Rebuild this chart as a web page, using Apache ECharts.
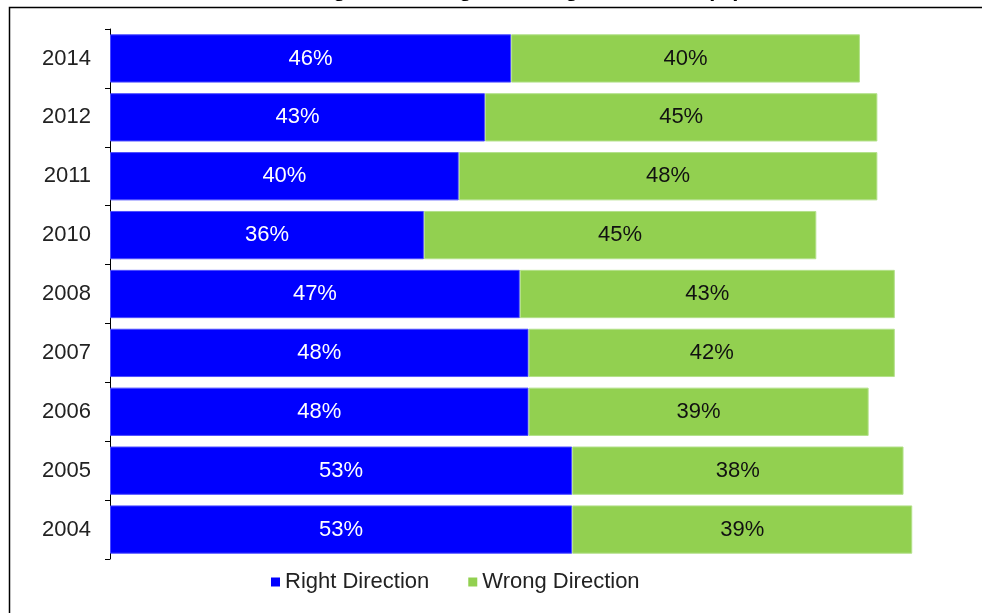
<!DOCTYPE html>
<html>
<head>
<meta charset="utf-8">
<script src="https://cdn.jsdelivr.net/npm/echarts@6/dist/echarts.min.js"></script>
<style>
html,body{margin:0;padding:0;background:#fff;}
#chart{width:982px;height:613px;}
</style>
</head>
<body>
<div id="chart"></div>
<script>
const titleText = "Is the Region Heading in the Right Direction (%)";
const years = ["2014", "2012", "2011", "2010", "2008", "2007", "2006", "2005", "2004"];
const rightDirection = [46, 43, 40, 36, 47, 48, 48, 53, 53];
const wrongDirection = [40, 45, 48, 45, 43, 42, 39, 38, 39];
const seriesNames = ["Right Direction", "Wrong Direction"];

const FONT = "'Liberation Sans', Arial, sans-serif";
const chart = echarts.init(document.getElementById('chart'));
chart.setOption({
  animation: false,
  backgroundColor: '#fff',
  textStyle: { fontFamily: FONT },
  title: {
    text: titleText,
    left: 'center',
    top: -26,
    textStyle: { fontFamily: FONT, fontSize: 22, fontWeight: 'bold', color: '#000' }
  },
  graphic: [{
    type: 'rect',
    left: 7, top: 5,
    shape: { width: 1100, height: 800 },
    style: { fill: 'none', stroke: '#000', lineWidth: 1.5 },
    silent: true, z: -10
  }],
  legend: {
    left: 266, top: 566,
    itemWidth: 9, itemHeight: 9, itemGap: 39,
    icon: 'rect',
    itemStyle: { borderWidth: 0 },
    textStyle: { fontFamily: FONT, fontSize: 22, color: '#222' },
    data: seriesNames
  },
  grid: { left: 110, right: 0, top: 29, bottom: 54 },
  xAxis: {
    type: 'value', min: 0, max: 100, show: false
  },
  yAxis: {
    type: 'category', inverse: true, data: years,
    axisLine: { show: true, lineStyle: { color: '#000', width: 1 } },
    axisTick: { show: true, inside: false, length: 5, lineStyle: { color: '#000', width: 1 } },
    axisLabel: { fontFamily: FONT, fontSize: 22, color: '#222', margin: 19 }
  },
  series: [
    {
      name: seriesNames[0], type: 'bar', stack: 'a', data: rightDirection,
      barCategoryGap: '18%',
      itemStyle: { color: '#0000FF', borderColor: '#4d4dff', borderWidth: 1 },
      label: { show: true, position: 'inside', formatter: '{c}%', color: '#fff', fontSize: 22, fontFamily: FONT }
    },
    {
      name: seriesNames[1], type: 'bar', stack: 'a', data: wrongDirection,
      barCategoryGap: '18%',
      itemStyle: { color: '#92D050', borderColor: '#b3e08a', borderWidth: 1 },
      label: { show: true, position: 'inside', formatter: '{c}%', color: '#111', fontSize: 22, fontFamily: FONT }
    }
  ]
});
</script>
</body>
</html>
